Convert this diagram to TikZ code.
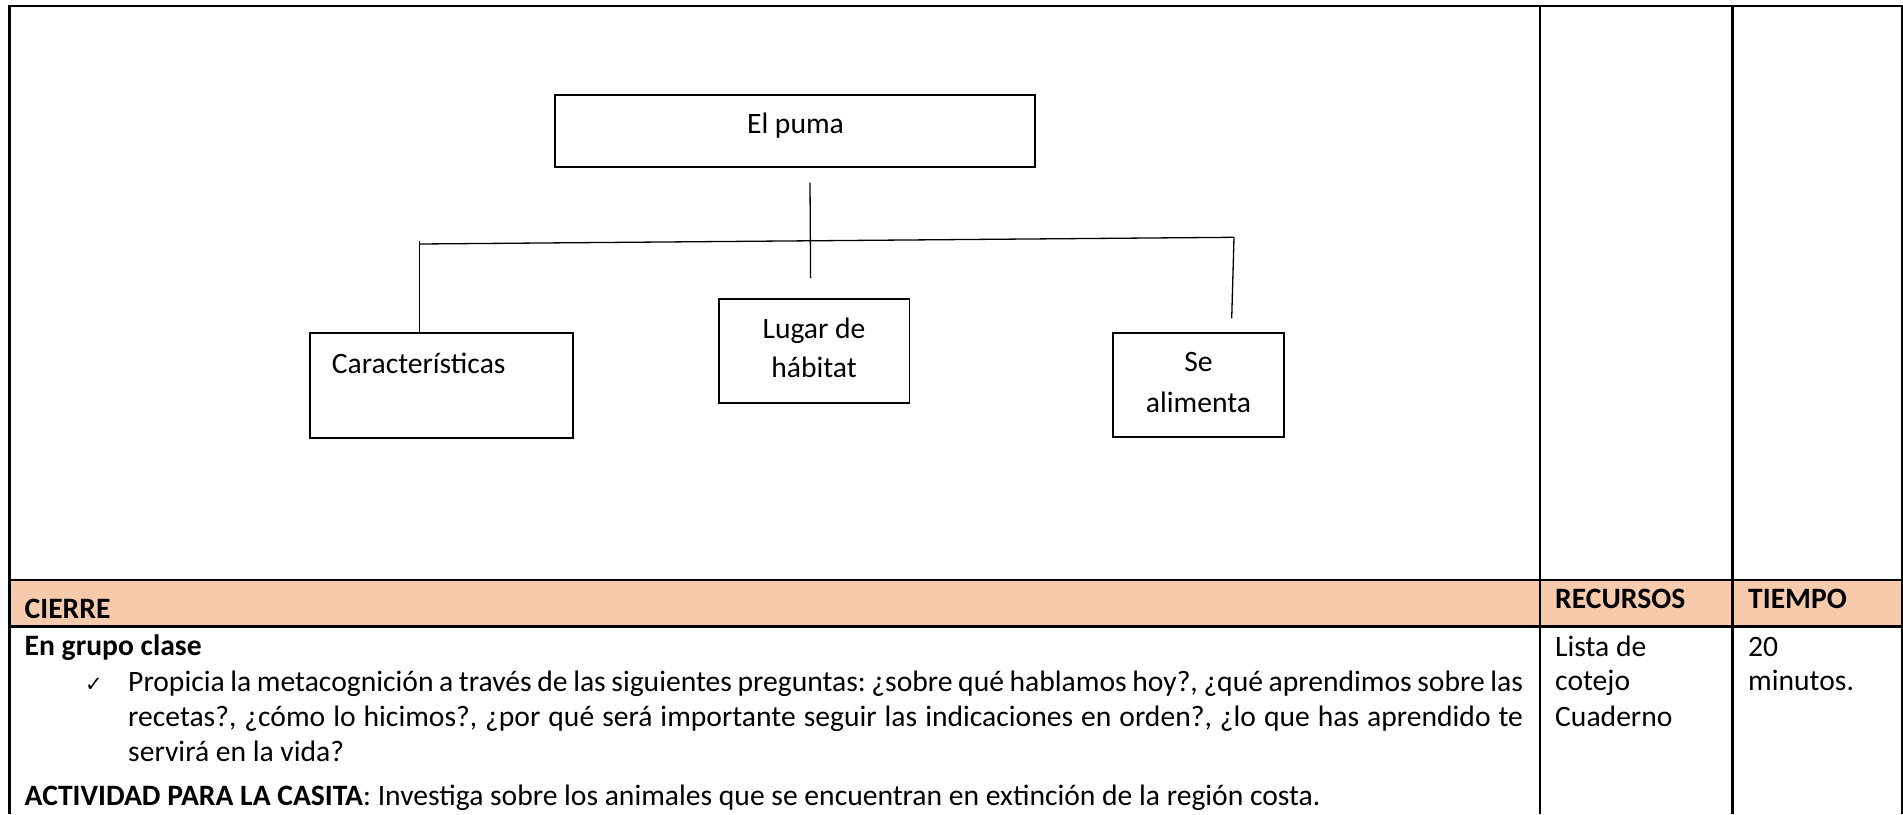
\documentclass[tikz,border=0pt]{standalone}
\usepackage{fontspec}
\setmainfont{Carlito}
\newfontfamily\symfont{DejaVu Sans}
\definecolor{hdr}{HTML}{F7CAAC}
\newcommand{\txtsz}{\fontsize{29.6}{35}\selectfont}
\frenchspacing
\begin{document}
\frenchspacing
\begin{tikzpicture}[x=1pt,y=-1pt,
  tbl/.style={line width=2.9pt},
  cbox/.style={draw, line width=1.8pt, inner sep=0pt, rectangle},
  conn/.style={line width=1.3pt},
  txt/.style={inner sep=0pt, anchor=base west, font=\txtsz},
  ctxt/.style={inner sep=0pt, anchor=base, font=\txtsz},
  btxt/.style={inner sep=0pt, anchor=base west, font=\txtsz\bfseries},
]
\useasboundingbox (0,0) rectangle (1903,814);

% ---- table ----
\fill[hdr] (9.8,580) rectangle (1902,626.7);
\draw[tbl] (9.8,814) -- (9.8,6) -- (1902,6) -- (1902,814);
\draw[tbl] (1540,6) -- (1540,814);
\draw[tbl] (1732.7,6) -- (1732.7,814);
\draw[tbl] (9.8,580) -- (1902,580);
\draw[tbl] (9.8,626.7) -- (1902,626.7);

% ---- diagram boxes ----
\node[cbox, minimum width=480pt, minimum height=72pt] (puma) at (795,131) {};
\node[cbox, minimum width=263pt, minimum height=104.4pt] (car) at (441.5,385.5) {};
\node[cbox, minimum width=190.7pt, minimum height=104.3pt] (lug) at (814.1,351.2) {};
\node[cbox, minimum width=171pt, minimum height=104.3pt] (ali) at (1198.8,384.9) {};

\node[ctxt] (tpuma) at (795.5,133.3) {El puma};
\node[txt] (tcar) at (331.7,373) {Características};
\node[ctxt] (tlug1) at (814,338.3) {Lugar de};
\node[ctxt] (tlug2) at (814,377.7) {hábitat};
\node[ctxt] (tali1) at (1198.5,371.7) {Se};
\node[ctxt] (tali2) at (1198.5,412.7) {alimenta};

% ---- connectors ----
\coordinate (hL) at (419.5,244);
\coordinate (hR) at (1234,237.3);
\coordinate (vLt) at (419.6,240.7);
\coordinate (vCt) at (810,182.7);
\coordinate (vCb) at (810.6,278);
\coordinate (vRb) at (1231.7,318.3);
\draw[conn] (hL) -- (hR);
\draw[conn] (vLt) -- (vLt |- car.north);
\draw[conn] (vCt) -- (vCb);
\draw[conn] (hR) -- (vRb);

% ---- table text ----
\node[btxt] (cierre) at (24.5,618) {CIERRE};
\node[btxt] (recursos) at (1555,608.3) {RECURSOS};
\node[btxt] (tiempo) at (1748,608.3) {TIEMPO};
\node[btxt] (grupo) at (24.5,655.5) {En grupo clase};
\node[inner sep=0pt, anchor=base west, font=\symfont\fontsize{21}{21}\selectfont] (check) at (85,691) {✓};
\node[txt] (l1) at (128,691.7) {\makebox[1395pt][s]{Propicia la metacognición a través de las siguientes preguntas: ¿sobre qué hablamos hoy?, ¿qué aprendimos sobre las}};
\node[txt] (l2) at (128,726.7) {\makebox[1395pt][s]{recetas?, ¿cómo lo hicimos?, ¿por qué será importante seguir las indicaciones en orden?, ¿lo que has aprendido te}};
\node[txt] (l3) at (128,761.7) {servirá en la vida?};
\node[txt] (act) at (24.5,805) {\textbf{ACTIVIDAD PARA LA CASITA}: Investiga sobre los animales que se encuentran en extinción de la región costa.};
\node[txt] (lista) at (1555,656.5) {Lista de};
\node[txt] (cotejo) at (1555,690) {cotejo};
\node[txt] (cuaderno) at (1555,726.7) {Cuaderno};
\node[txt] (veinte) at (1748,656.5) {20};
\node[txt] (minutos) at (1748,690) {minutos.};
\end{tikzpicture}
\end{document}
